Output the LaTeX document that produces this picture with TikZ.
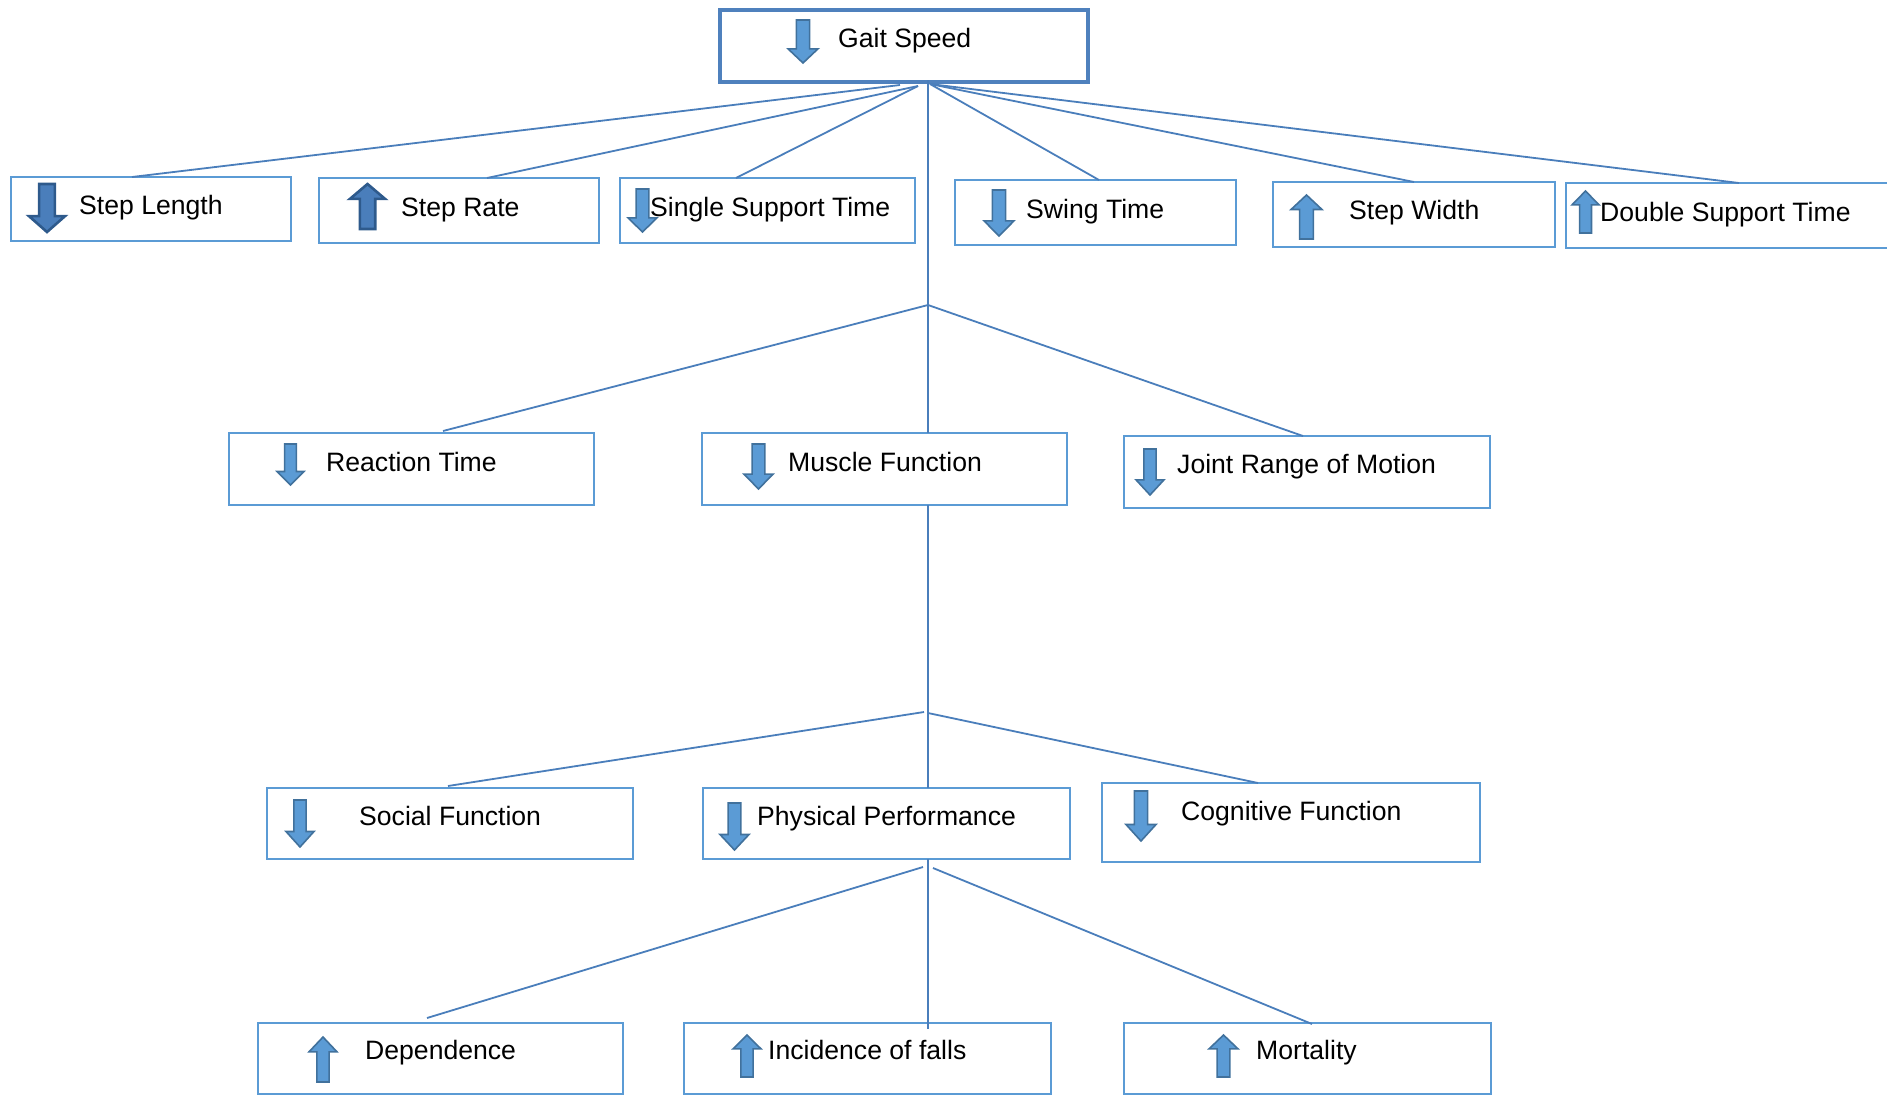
\documentclass[tikz,border=0pt]{standalone}
\usepackage{fontspec}
\setmainfont{Liberation Sans}
\usetikzlibrary{calc}

\definecolor{boxblue}{HTML}{5B9BD5}
\definecolor{topblue}{HTML}{4F81BD}
\definecolor{linkblue}{HTML}{4A7EBB}
\definecolor{arrowfill}{HTML}{5B9BD5}
\definecolor{arrowline}{HTML}{41719C}
\definecolor{darkfill}{HTML}{4A7EBB}
\definecolor{darkline}{HTML}{2E5A8C}

% block arrows: [style]{left}{top}{right}{bottom}, y grows downwards
\newcommand\arrowdn[5][lightarrow]{%
  \filldraw[#1]
    ({(#2+#4)/2-0.22*(#4-#2)},#3) -- ({(#2+#4)/2+0.22*(#4-#2)},#3)
    -- ({(#2+#4)/2+0.22*(#4-#2)},{#5-0.33*(#5-#3)}) -- (#4,{#5-0.33*(#5-#3)})
    -- ({(#2+#4)/2},#5) -- (#2,{#5-0.33*(#5-#3)})
    -- ({(#2+#4)/2-0.22*(#4-#2)},{#5-0.33*(#5-#3)}) -- cycle;}
\newcommand\arrowup[5][lightarrow]{%
  \filldraw[#1]
    ({(#2+#4)/2},#3) -- (#4,{#3+0.33*(#5-#3)})
    -- ({(#2+#4)/2+0.22*(#4-#2)},{#3+0.33*(#5-#3)}) -- ({(#2+#4)/2+0.22*(#4-#2)},#5)
    -- ({(#2+#4)/2-0.22*(#4-#2)},#5) -- ({(#2+#4)/2-0.22*(#4-#2)},{#3+0.33*(#5-#3)})
    -- (#2,{#3+0.33*(#5-#3)}) -- cycle;}

\begin{document}
\begin{tikzpicture}[x=1pt,y=-1pt,
  box/.style={draw=boxblue,line width=2.5pt,rectangle,inner sep=0pt,outer sep=0pt},
  topbox/.style={draw=topblue,line width=4.5pt,rectangle,inner sep=0pt,outer sep=0pt},
  lbl/.style={inner sep=0pt,anchor=base west,font=\fontsize{26.6}{32}\selectfont},
  link/.style={draw=linkblue,line width=1.8pt},
  lightarrow/.style={fill=arrowfill,draw=arrowline,line width=1.6pt,line join=miter},
  darkarrow/.style={fill=darkfill,draw=darkline,line width=2.6pt,line join=miter}]
\useasboundingbox (0,0) rectangle (1887,1095);

% ---- boxes ----
\node[topbox,minimum width=368,minimum height=72] (gs) at (904,46) {};

\node[box,minimum width=280,minimum height=64] (sl)  at (151,209) {};
\node[box,minimum width=280,minimum height=65] (sr)  at (459,210.5) {};
\node[box,minimum width=295,minimum height=65] (sst) at (767.5,210.5) {};
\node[box,minimum width=281,minimum height=65] (sw)  at (1095.5,212.5) {};
\node[box,minimum width=282,minimum height=65] (swd) at (1414,214.5) {};
\node[box,minimum width=340,minimum height=65] (dst) at (1736,215.5) {};

\node[box,minimum width=365,minimum height=72] (rt) at (411.5,469) {};
\node[box,minimum width=365,minimum height=72] (mf) at (884.5,469) {};
\node[box,minimum width=366,minimum height=72] (jr) at (1307,472) {};

\node[box,minimum width=366,minimum height=71] (sf) at (450,823.5) {};
\node[box,minimum width=367,minimum height=71] (pp) at (886.5,823.5) {};
\node[box,minimum width=378,minimum height=79] (cf) at (1291,822.5) {};

\node[box,minimum width=365,minimum height=71] (dep) at (440.5,1058.5) {};
\node[box,minimum width=367,minimum height=71] (inc) at (867.5,1058.5) {};
\node[box,minimum width=367,minimum height=71] (mor) at (1307.5,1058.5) {};

% ---- junction points ----
\coordinate (gsL)  at ($(gs.south west)+(180,3)$);
\coordinate (gsML) at ($(gs.south west)+(198,4)$);
\coordinate (gsM)  at ($(gs.south west)+(208,-2)$);
\coordinate (gsR)  at ($(gs.south west)+(210,2)$);
\coordinate (hubA) at (928,305);
\coordinate (hubB) at (928,713);
\coordinate (hubBL) at (924,712);
\coordinate (ppL) at ($(pp.south west)+(220,8)$);
\coordinate (ppR) at ($(pp.south west)+(230,9)$);

% ---- connectors ----
\draw[link] (gsL)  -- ($(sl.north west)+(121,0)$);
\draw[link] (gsML) -- ($(sr.north west)+(168,0)$);
\draw[link] (gsML) -- ($(sst.north west)+(116,0)$);
\draw[link] (gsR)  -- ($(sw.north west)+(144,0)$);
\draw[link] (gsR)  -- ($(swd.north west)+(141,0)$);
\draw[link] (gsR)  -- ($(dst.north west)+(173,0)$);
\draw[link] (gsM)  -- (hubA);

\draw[link] (hubA) -- ($(rt.north west)+(214,-2)$);
\draw[link] (hubA) -- ($(mf.north west)+(226,0)$);
\draw[link] (hubA) -- ($(jr.north west)+(179,0)$);

\draw[link] ($(mf.south west)+(226,0)$) -- (hubB);
\draw[link] (hubBL) -- ($(sf.north west)+(181,-2)$);
\draw[link] (hubB) -- ($(pp.north west)+(225,0)$);
\draw[link] (hubB) -- ($(cf.north west)+(156,0)$);

\draw[link] ($(pp.south west)+(225,0)$) -- ($(inc.north west)+(244,6)$);
\draw[link] (ppL) -- ($(dep.north west)+(169,-5)$);
\draw[link] (ppR) -- ($(mor.north west)+(188,1)$);

% ---- labels ----
\node[lbl] (gs-t)  at (838,47)    {Gait Speed};
\node[lbl] (sl-t)  at (79,214.5)  {Step Length};
\node[lbl] (sr-t)  at (401,216)   {Step Rate};
\node[lbl] (sst-t) at (650,216)   {Single Support Time};
\node[lbl] (sw-t)  at (1026,218)  {Swing Time};
\node[lbl] (swd-t) at (1349,219)  {Step Width};
\node[lbl] (dst-t) at (1600,221)  {Double Support Time};
\node[lbl] (rt-t)  at (326,471)   {Reaction Time};
\node[lbl] (mf-t)  at (788,471)   {Muscle Function};
\node[lbl] (jr-t)  at (1177,473)  {Joint Range of Motion};
\node[lbl] (sf-t)  at (359,825)   {Social Function};
\node[lbl] (pp-t)  at (757,825)   {Physical Performance};
\node[lbl] (cf-t)  at (1181,820)  {Cognitive Function};
\node[lbl] (dep-t) at (365,1059)  {Dependence};
\node[lbl] (inc-t) at (768,1059)  {Incidence of falls};
\node[lbl] (mor-t) at (1256,1059) {Mortality};

% ---- trend arrows ----
\arrowdn{788}{20}{818}{63}
\arrowdn[darkarrow]{29}{184}{65}{232}
\arrowup[darkarrow]{350}{184}{385}{229}
\arrowdn{628}{189}{657}{232}
\arrowdn{984}{190}{1014}{236}
\arrowup{1291}{195}{1322}{239}
\arrowup{1572}{191}{1599}{233}
\arrowdn{277}{444}{304}{485}
\arrowdn{744}{444}{773}{489}
\arrowdn{1136}{449}{1164}{495}
\arrowdn{286}{800}{314}{847}
\arrowdn{720}{803}{749}{850}
\arrowdn{1126}{791}{1156}{841}
\arrowup{309}{1037}{337}{1082}
\arrowup{733}{1035}{761}{1077}
\arrowup{1209}{1035}{1238}{1077}
\end{tikzpicture}
\end{document}
